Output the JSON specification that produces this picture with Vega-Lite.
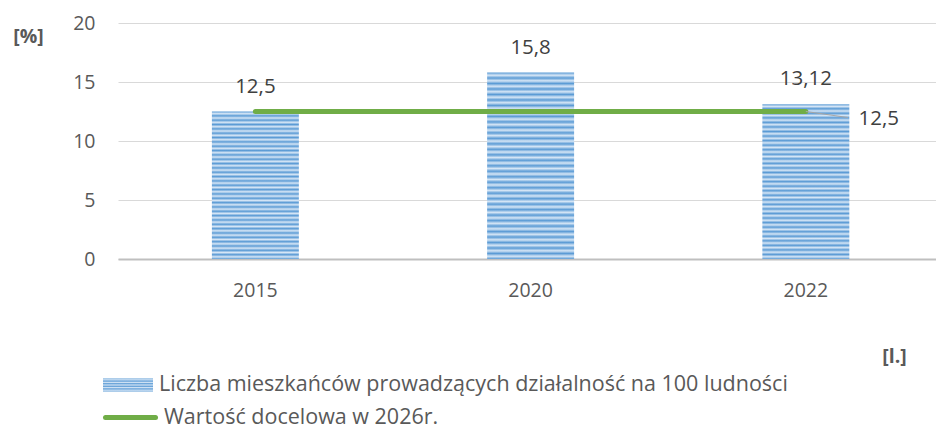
{
  "$schema": "https://vega.github.io/schema/vega-lite/v6.json",
  "width": 818,
  "height": 236,
  "autosize": {"type": "none"},
  "padding": {"left": 118, "top": 23, "right": 0, "bottom": 173},
  "config": {
    "view": {"stroke": null},
    "font": "Open Sans",
    "locale": {"number": {"decimal": ",", "thousands": " ", "grouping": [3], "currency": ["", " zł"]}},
    "axis": {"labelFont": "Open Sans", "labelFontSize": 19.5, "labelColor": "#595959", "titleFont": "Open Sans", "titleFontSize": 19.5, "titleColor": "#595959", "titleFontWeight": "bold"},
    "legend": {"labelFont": "Open Sans", "labelFontSize": 21.5, "labelColor": "#595959", "labelLimit": 900}
  },
  "data": {
    "values": [
      {"year": "2015", "value": 12.5, "target": 12.5},
      {"year": "2020", "value": 15.8, "target": 12.5},
      {"year": "2022", "value": 13.12, "target": 12.5}
    ]
  },
  "encoding": {
    "x": {
      "field": "year",
      "type": "ordinal",
      "scale": {"paddingInner": 0.684, "paddingOuter": 0.328, "align": 0.52},
      "axis": {"labelAngle": 0, "ticks": false, "domain": true, "domainColor": "#BFBFBF", "domainWidth": 2, "grid": false, "labelPadding": 22, "title": "[l.]", "titleX": 776, "titleY": 97, "titleAlign": "center", "titleBaseline": "middle"}
    }
  },
  "layer": [
    {
      "mark": {
        "type": "bar",
        "strokeWidth": 0,
        "fill": {"gradient": "linear", "x1": 0, "y1": 0, "x2": 0, "y2": 1, "stops": [
          {"offset": 0, "color": "#5B9BD5"}, {"offset": 0.0147, "color": "#D6E6F6"},
          {"offset": 0.0294, "color": "#5B9BD5"}, {"offset": 0.0441, "color": "#D6E6F6"},
          {"offset": 0.0588, "color": "#5B9BD5"}, {"offset": 0.0735, "color": "#D6E6F6"},
          {"offset": 0.0882, "color": "#5B9BD5"}, {"offset": 0.1029, "color": "#D6E6F6"},
          {"offset": 0.1176, "color": "#5B9BD5"}, {"offset": 0.1324, "color": "#D6E6F6"},
          {"offset": 0.1471, "color": "#5B9BD5"}, {"offset": 0.1618, "color": "#D6E6F6"},
          {"offset": 0.1765, "color": "#5B9BD5"}, {"offset": 0.1912, "color": "#D6E6F6"},
          {"offset": 0.2059, "color": "#5B9BD5"}, {"offset": 0.2206, "color": "#D6E6F6"},
          {"offset": 0.2353, "color": "#5B9BD5"}, {"offset": 0.25, "color": "#D6E6F6"},
          {"offset": 0.2647, "color": "#5B9BD5"}, {"offset": 0.2794, "color": "#D6E6F6"},
          {"offset": 0.2941, "color": "#5B9BD5"}, {"offset": 0.3088, "color": "#D6E6F6"},
          {"offset": 0.3235, "color": "#5B9BD5"}, {"offset": 0.3382, "color": "#D6E6F6"},
          {"offset": 0.3529, "color": "#5B9BD5"}, {"offset": 0.3676, "color": "#D6E6F6"},
          {"offset": 0.3824, "color": "#5B9BD5"}, {"offset": 0.3971, "color": "#D6E6F6"},
          {"offset": 0.4118, "color": "#5B9BD5"}, {"offset": 0.4265, "color": "#D6E6F6"},
          {"offset": 0.4412, "color": "#5B9BD5"}, {"offset": 0.4559, "color": "#D6E6F6"},
          {"offset": 0.4706, "color": "#5B9BD5"}, {"offset": 0.4853, "color": "#D6E6F6"},
          {"offset": 0.5, "color": "#5B9BD5"}, {"offset": 0.5147, "color": "#D6E6F6"},
          {"offset": 0.5294, "color": "#5B9BD5"}, {"offset": 0.5441, "color": "#D6E6F6"},
          {"offset": 0.5588, "color": "#5B9BD5"}, {"offset": 0.5735, "color": "#D6E6F6"},
          {"offset": 0.5882, "color": "#5B9BD5"}, {"offset": 0.6029, "color": "#D6E6F6"},
          {"offset": 0.6176, "color": "#5B9BD5"}, {"offset": 0.6324, "color": "#D6E6F6"},
          {"offset": 0.6471, "color": "#5B9BD5"}, {"offset": 0.6618, "color": "#D6E6F6"},
          {"offset": 0.6765, "color": "#5B9BD5"}, {"offset": 0.6912, "color": "#D6E6F6"},
          {"offset": 0.7059, "color": "#5B9BD5"}, {"offset": 0.7206, "color": "#D6E6F6"},
          {"offset": 0.7353, "color": "#5B9BD5"}, {"offset": 0.75, "color": "#D6E6F6"},
          {"offset": 0.7647, "color": "#5B9BD5"}, {"offset": 0.7794, "color": "#D6E6F6"},
          {"offset": 0.7941, "color": "#5B9BD5"}, {"offset": 0.8088, "color": "#D6E6F6"},
          {"offset": 0.8235, "color": "#5B9BD5"}, {"offset": 0.8382, "color": "#D6E6F6"},
          {"offset": 0.8529, "color": "#5B9BD5"}, {"offset": 0.8676, "color": "#D6E6F6"},
          {"offset": 0.8824, "color": "#5B9BD5"}, {"offset": 0.8971, "color": "#D6E6F6"},
          {"offset": 0.9118, "color": "#5B9BD5"}, {"offset": 0.9265, "color": "#D6E6F6"},
          {"offset": 0.9412, "color": "#5B9BD5"}, {"offset": 0.9559, "color": "#D6E6F6"},
          {"offset": 0.9706, "color": "#5B9BD5"}, {"offset": 0.9853, "color": "#D6E6F6"},
          {"offset": 1, "color": "#5B9BD5"}
        ]}
      },
      "encoding": {
        "y": {
          "field": "value",
          "type": "quantitative",
          "scale": {"domain": [0, 20]},
          "axis": {"values": [0, 5, 10, 15, 20], "ticks": false, "domain": false, "grid": true, "gridColor": "#D9D9D9", "gridWidth": 1, "labelPadding": 23, "title": "[%]", "titleAngle": 0, "titleX": -90, "titleY": 13, "titleAlign": "center", "titleBaseline": "middle"}
        },
        "stroke": {
          "datum": "Liczba mieszkańców prowadzących działalność na 100 ludności",
          "type": "nominal",
          "scale": {"range": ["#5B9BD5"]},
          "legend": {
            "title": null,
            "orient": "none",
            "legendX": -15,
            "legendY": 337,
            "symbolType": "M-1,-0.26H1V0.26H-1Z",
            "symbolSize": 2500,
            "symbolStrokeWidth": 0,
            "labelOffset": 6,
            "encode": {"symbols": {"update": {"strokeWidth": {"value": 0}, "fill": {"value": {"gradient": "linear", "x1": 0, "y1": 0, "x2": 0, "y2": 1, "stops": [
              {"offset": 0, "color": "#5B9BD5"}, {"offset": 0.17, "color": "#D6E6F6"},
              {"offset": 0.33, "color": "#5B9BD5"}, {"offset": 0.5, "color": "#D6E6F6"},
              {"offset": 0.67, "color": "#5B9BD5"}, {"offset": 0.83, "color": "#D6E6F6"},
              {"offset": 1, "color": "#5B9BD5"}]}}, "opacity": {"value": 1}}}}
          }
        }
      }
    },
    {
      "mark": {"type": "line", "strokeWidth": 5, "strokeCap": "round"},
      "encoding": {
        "y": {"field": "target", "type": "quantitative"},
        "stroke": {
          "datum": "Wartość docelowa w 2026r.",
          "type": "nominal",
          "scale": {"range": ["#70AD47"]},
          "legend": {
            "title": null,
            "orient": "none",
            "legendX": -15,
            "legendY": 367,
            "symbolType": "M-1,0H1",
            "symbolSize": 2500,
            "symbolStrokeWidth": 5,
            "labelOffset": 6,
            "encode": {"symbols": {"update": {"strokeCap": {"value": "round"}}}}
          }
        }
      }
    },
    {
      "mark": {"type": "text", "dy": -25, "baseline": "middle", "fontSize": 20.5, "color": "#404040", "font": "Open Sans"},
      "encoding": {
        "y": {"field": "value", "type": "quantitative"},
        "text": {"field": "value", "type": "quantitative", "format": ".4~g"}
      }
    },
    {
      "transform": [{"filter": "datum.year == '2022'"}],
      "mark": {"type": "rule", "color": "#A6A6A6", "strokeWidth": 1.2, "x2Offset": 42, "y2Offset": 6},
      "encoding": {
        "x": {"field": "year", "type": "ordinal", "bandPosition": 0.5},
        "x2": {"field": "year", "bandPosition": 0.5},
        "y": {"field": "target", "type": "quantitative"},
        "y2": {"field": "target"}
      }
    },
    {
      "transform": [{"filter": "datum.year == '2022'"}],
      "mark": {"type": "text", "dx": 73, "dy": 7, "baseline": "middle", "fontSize": 20.5, "color": "#404040", "font": "Open Sans"},
      "encoding": {
        "y": {"field": "target", "type": "quantitative"},
        "text": {"field": "target", "type": "quantitative", "format": ".4~g"}
      }
    }
  ],
  "resolve": {"scale": {"stroke": "independent"}}
}
